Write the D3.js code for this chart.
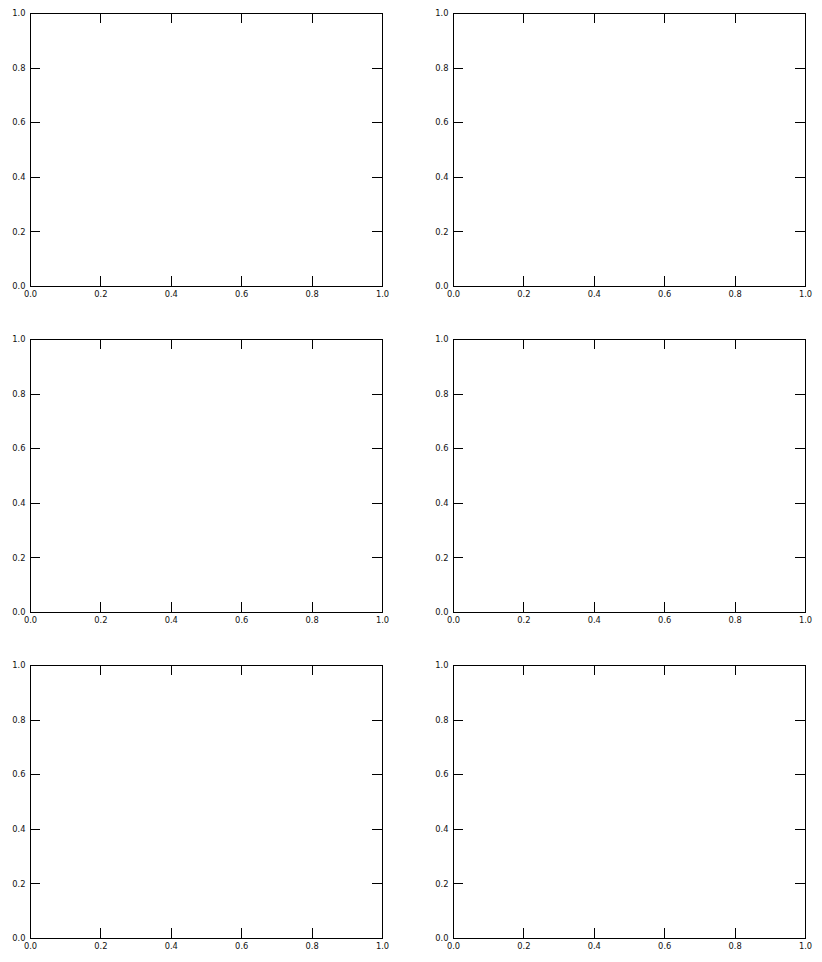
<!DOCTYPE html>
<html>
<head>
<meta charset="utf-8">
<script src="https://cdn.jsdelivr.net/npm/d3@7"></script>
<style>
  html, body { margin: 0; padding: 0; background: #fff; }
  svg { display: block; }
  text { font-family: "DejaVu Sans", sans-serif; }
</style>
</head>
<body>
<div id="chart"></div>
<script>
// Data: six empty panels, each with the same axis domains and ticks
const panels = ["r0c0", "r0c1", "r1c0", "r1c1", "r2c0", "r2c1"];
const xDomain = [0, 1];
const yDomain = [0, 1];
const xTicks = [0, 0.2, 0.4, 0.6, 0.8, 1.0];
const yTicks = [0, 0.2, 0.4, 0.6, 0.8, 1.0];

const W = 822, H = 962;
const colLeft = [30, 453];
const panelW = 352;
const rowTop = [13, 339, 665];
const panelH = 273;

const svg = d3.select("#chart").append("svg")
  .attr("width", W).attr("height", H);

const fmt = d3.format(".1f");

panels.forEach((name, i) => {
  const r = Math.floor(i / 2), c = i % 2;
  const x0 = colLeft[c], y0 = rowTop[r];
  const x = d3.scaleLinear().domain(xDomain).range([0, panelW]);
  const y = d3.scaleLinear().domain(yDomain).range([panelH, 0]);

  const g = svg.append("g").attr("transform", `translate(${x0},${y0})`).attr("class", name);

  const styleAxis = sel => {
    sel.select(".domain").remove();
    sel.selectAll(".tick line").attr("stroke", "#000").attr("stroke-width", 1)
      .attr("shape-rendering", "crispEdges");
    sel.selectAll(".tick text").attr("fill", "#111").style("font-size", "8.3px")
      .style("font-family", "'DejaVu Sans', sans-serif");
  };

  g.append("g").attr("transform", `translate(0,${panelH})`)
    .call(d3.axisBottom(x).tickValues(xTicks).tickFormat(fmt).tickSize(-10).tickPadding(5.3))
    .call(styleAxis);
  g.append("g")
    .call(d3.axisTop(x).tickValues(xTicks).tickFormat("").tickSize(-10))
    .call(styleAxis);
  g.append("g")
    .call(d3.axisLeft(y).tickValues(yTicks).tickFormat(fmt).tickSize(-10).tickPadding(4.5))
    .call(styleAxis);
  g.append("g").attr("transform", `translate(${panelW},0)`)
    .call(d3.axisRight(y).tickValues(yTicks).tickFormat("").tickSize(-10))
    .call(styleAxis);

  g.append("rect")
    .attr("x", x.range()[0]).attr("y", y.range()[1])
    .attr("width", x.range()[1] - x.range()[0])
    .attr("height", y.range()[0] - y.range()[1])
    .attr("fill", "none").attr("stroke", "#000").attr("stroke-width", 1)
    .attr("shape-rendering", "crispEdges");
});
</script>
</body>
</html>
